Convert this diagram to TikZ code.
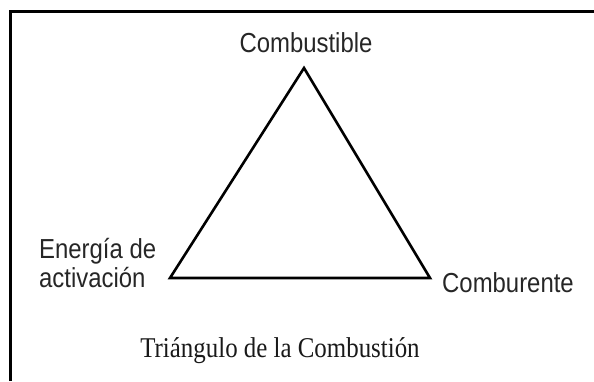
\documentclass[tikz,border=0pt]{standalone}
\usepackage{fontspec}
\setmainfont{Liberation Serif}
\setsansfont{Liberation Sans}
\usetikzlibrary{positioning}
\tikzstyle{none}=[inner sep=0pt]
\tikzstyle{vertice}=[inner sep=0pt,minimum size=0pt]
\tikzstyle{etiqueta}=[inner sep=0pt,font=\sffamily\fontsize{24}{26}\selectfont,text=black!85,align=left,yscale=1.15,transform shape]
\tikzstyle{titulo}=[inner sep=0pt,font=\fontsize{25}{25}\selectfont,text=black!90,yscale=1.15,transform shape]
\tikzstyle{lado}=[draw,line width=2.6bp,line join=miter]
\tikzstyle{marco}=[draw,line width=3bp]

\begin{document}
\begin{tikzpicture}[x=1bp,y=1bp]
		\useasboundingbox (0,0) rectangle (594,381);
		% marco recortado (solo lados superior e izquierdo)
		\coordinate (marco_inf) at (10,0);
		\coordinate (marco_sup) at (594,369);
		\path [style=marco] (marco_inf) |- (marco_sup);
		% vertices del triangulo
		\node [style=vertice] (v_sup) at (304,313) {};
		\node [style=vertice] (v_izq) at (170,103) {};
		\node [style=vertice] (v_der) at (430,103) {};
		\path [style=lado] (v_sup.center) -- (v_der.center) -- (v_izq.center) -- cycle;
		% etiquetas
		\node [style=etiqueta,anchor=base] (combustible) at (306,329) {Combustible};
		\node [style=etiqueta,anchor=west] (energia) at (39,118) {Energía de\\activación};
		\node [style=etiqueta,anchor=base west] (comburente) at (442,89) {Comburente};
		\node [style=titulo,anchor=base] (titulo) at (280,24) {Triángulo de la Combustión};
\end{tikzpicture}
\end{document}
